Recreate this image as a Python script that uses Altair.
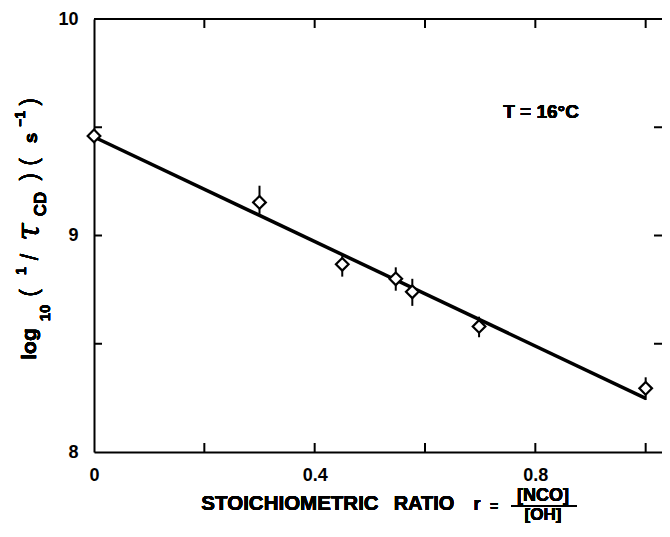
import altair as alt
import pandas as pd

# data
ratio = [0.0, 0.30, 0.45, 0.547, 0.577, 0.698, 1.0]
log_rate = [9.46, 9.153, 8.867, 8.80, 8.74, 8.58, 8.294]
err_lo = [9.46, 9.10, 8.81, 8.745, 8.675, 8.53, 8.24]
err_hi = [9.46, 9.23, 8.905, 8.853, 8.80, 8.625, 8.345]
fit_x = [0.0, 1.0]
fit_y = [9.455, 8.248]
x_ticks = [0.2, 0.4, 0.6, 0.8, 1.0]
y_ticks = [8.5, 9.0, 9.5]
x_labels = [0.0, 0.4, 0.8]
y_labels = [8.0, 9.0, 10.0]

W, H = 568, 433
FONT = "Liberation Sans"

xs = alt.Scale(domain=[0, 1.0296], nice=False, zero=False)
ys = alt.Scale(domain=[8, 10], nice=False, zero=False)

pts = pd.DataFrame({"r": ratio, "v": log_rate, "lo": err_lo, "hi": err_hi})
fit = pd.DataFrame({"r": fit_x, "v": fit_y})
xt = pd.DataFrame({"t": x_ticks})
yt = pd.DataFrame({"t": y_ticks})

base_axes = alt.Chart(pts).mark_point(opacity=0).encode(
    x=alt.X("r:Q", scale=xs, axis=alt.Axis(
        values=x_labels, title=None, domain=True, domainColor="black", domainWidth=2,
        ticks=False, tickSize=0, grid=False,
        labelFont=FONT, labelFontSize=18, labelFontWeight="bold", labelColor="black",
        labelPadding=14, labelFlush=False, labelOverlap=False,
        labelExpr="datum.value == 0 ? '0' : format(datum.value, '.1f')")),
    y=alt.Y("v:Q", scale=ys, axis=alt.Axis(
        values=y_labels, title=None, domain=True, domainColor="black", domainWidth=2,
        ticks=False, tickSize=0, grid=False,
        labelFont=FONT, labelFontSize=18, labelFontWeight="bold", labelColor="black",
        labelPadding=16, labelFlush=False, labelOverlap=False,
        labelExpr="format(datum.value, '.0f')")),
)

fit_line = alt.Chart(fit).mark_line(color="black", strokeWidth=3.5).encode(
    x=alt.X("r:Q", scale=xs), y=alt.Y("v:Q", scale=ys))

errbars = alt.Chart(pts).mark_rule(color="black", strokeWidth=2).encode(
    x=alt.X("r:Q", scale=xs), y=alt.Y("lo:Q", scale=ys), y2="hi:Q")

diamonds = alt.Chart(pts).mark_point(
    shape="diamond", size=160, filled=True, fill="white", stroke="black",
    strokeWidth=2.2, opacity=1).encode(
    x=alt.X("r:Q", scale=xs), y=alt.Y("v:Q", scale=ys))

top_ticks = alt.Chart(xt).mark_rule(color="black", strokeWidth=2).encode(
    x=alt.X("t:Q", scale=xs), y=alt.value(0), y2=alt.value(9))
bot_ticks = alt.Chart(xt).mark_rule(color="black", strokeWidth=2).encode(
    x=alt.X("t:Q", scale=xs), y=alt.value(H), y2=alt.value(H - 9))
left_ticks = alt.Chart(yt).mark_rule(color="black", strokeWidth=2).encode(
    y=alt.Y("t:Q", scale=ys), x=alt.value(0), x2=alt.value(8))
right_ticks = alt.Chart(yt).mark_rule(color="black", strokeWidth=2).encode(
    y=alt.Y("t:Q", scale=ys), x=alt.value(W), x2=alt.value(W - 8))
top_line = alt.Chart(xt).mark_rule(color="black", strokeWidth=2).encode(
    x=alt.value(0), x2=alt.value(W), y=alt.value(0))


def label(text, px, py, size=17, weight="bold", angle=0, font=FONT, style="normal"):
    return alt.Chart(pts).mark_text(
        text=text, font=font, fontSize=size, fontWeight=weight, fontStyle=style,
        angle=angle, align="center", baseline="middle", color="black").encode(
        x=alt.value(px), y=alt.value(py))


ox, oy = 94, 19  # plot origin in page pixels
annos = [
    # y-axis title, rotated pieces
    label("log", 30 - ox, 344 - oy, 21, angle=270),
    label("10", 45 - ox, 313 - oy, 15, angle=270),
    label("(", 30 - ox, 293 - oy, 23, weight="normal", angle=270),
    label("1", 22 - ox, 271 - oy, 14, angle=270),
    label("/", 31 - ox, 257 - oy, 23, weight="normal", angle=270),
    label("τ", 29 - ox, 232 - oy, 32, weight="normal", angle=270,
          font="DejaVu Serif", style="italic"),
    label("CD", 41 - ox, 204 - oy, 17, angle=270),
    label(")", 30 - ox, 177 - oy, 23, weight="normal", angle=270),
    label("(", 30 - ox, 162 - oy, 23, weight="normal", angle=270),
    label("s", 31 - ox, 138 - oy, 19, angle=270),
    label("−1", 21 - ox, 119 - oy, 14, angle=270),
    label(")", 30 - ox, 102 - oy, 23, weight="normal", angle=270),
    # x-axis title
    label("STOICHIOMETRIC", 290 - ox, 504 - oy, 20.5),
    label("RATIO", 424 - ox, 504 - oy, 20),
    label("r", 477 - ox, 505 - oy, 18),
    label("=", 494 - ox, 507 - oy, 14),
    label("[NCO]", 543 - ox, 496 - oy, 18),
    label("[OH]", 543 - ox, 515 - oy, 17),
    # temperature note
    label("T = 16°C", 541 - ox, 112 - oy, 19),
]

frac_bar = alt.Chart(xt).mark_rule(color="black", strokeWidth=2).encode(
    x=alt.value(511 - ox), x2=alt.value(577 - ox), y=alt.value(506 - oy))

chart = alt.layer(
    base_axes, fit_line, errbars, diamonds, top_line,
    top_ticks, bot_ticks, left_ticks, right_ticks, frac_bar, *annos
).properties(
    width=W, height=H,
    padding={"left": 86, "top": 11, "right": 0, "bottom": 72},
    autosize=alt.AutoSizeParams(type="none"),
).configure_view(stroke=None).configure(background="white")

chart.save("out.html", embed_options={"renderer": "svg", "actions": False})
